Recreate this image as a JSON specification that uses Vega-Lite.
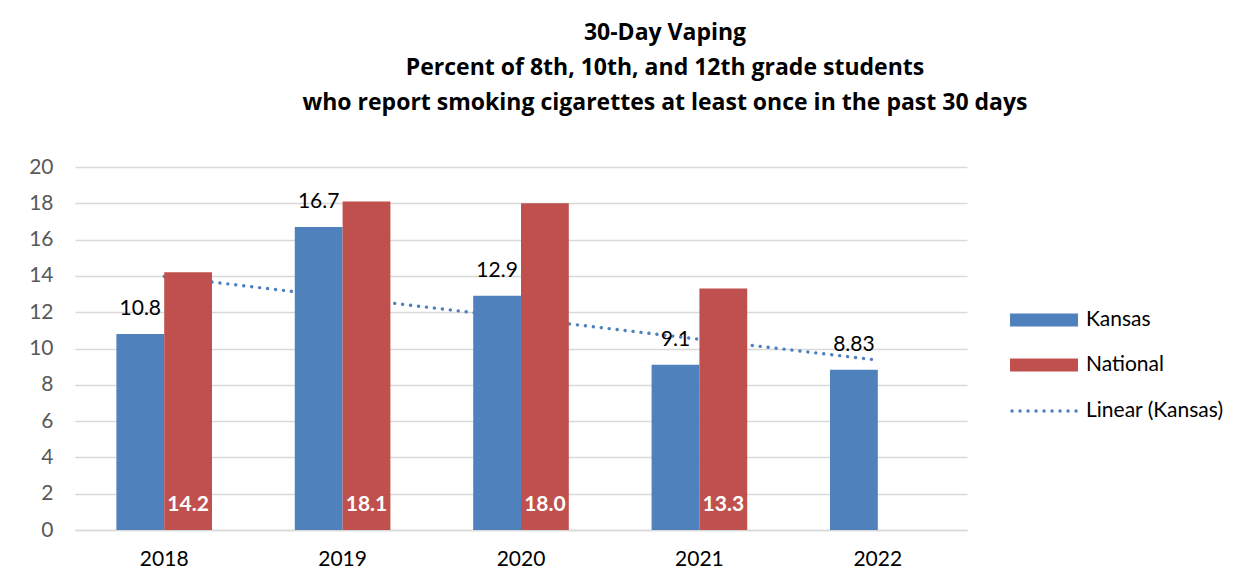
{
  "$schema": "https://vega.github.io/schema/vega-lite/v6.json",
  "autosize": {"type": "none"},
  "width": 892,
  "height": 363,
  "padding": {"left": 75, "top": 167, "right": 281, "bottom": 56},
  "background": "white",
  "title": {
    "text": ["30-Day Vaping", "Percent of 8th, 10th, and 12th grade students", "who report smoking cigarettes at least once in the past 30 days"],
    "fontSize": 23,
    "fontWeight": "bold",
    "font": "Open Sans",
    "color": "#000000",
    "lineHeight": 35,
    "anchor": "middle",
    "frame": "group",
    "dx": 144,
    "offset": 41
  },
  "data": {
    "values": [
      {"year": "2018", "series": "Kansas", "value": 10.8, "trend": 13.97},
      {"year": "2018", "series": "National", "value": 14.2},
      {"year": "2019", "series": "Kansas", "value": 16.7, "trend": 12.82},
      {"year": "2019", "series": "National", "value": 18.1},
      {"year": "2020", "series": "Kansas", "value": 12.9, "trend": 11.67},
      {"year": "2020", "series": "National", "value": 18.0},
      {"year": "2021", "series": "Kansas", "value": 9.1, "trend": 10.51},
      {"year": "2021", "series": "National", "value": 13.3},
      {"year": "2022", "series": "Kansas", "value": 8.83, "trend": 9.36}
    ]
  },
  "layer": [
    {
      "transform": [{"filter": "datum.series === 'Kansas'"}],
      "mark": {"type": "line", "color": "#4F81BD", "strokeWidth": 3.4, "strokeCap": "round"},
      "encoding": {
        "x": {
          "field": "year",
          "type": "nominal",
          "scale": {"paddingInner": 0.464, "paddingOuter": 0.232},
          "axis": {"title": null, "labelAngle": 0, "domain": true, "domainColor": "#d9d9d9", "domainWidth": 1.5, "ticks": false, "labelFontSize": 21, "labelFont": "Lato", "labelColor": "#000000", "labelPadding": 18}
        },
        "y": {
          "field": "trend",
          "type": "quantitative",
          "scale": {"domain": [0, 20], "nice": false},
          "axis": {"title": null, "values": [0, 2, 4, 6, 8, 10, 12, 14, 16, 18, 20], "tickCount": 11, "grid": true, "gridColor": "#d9d9d9", "gridWidth": 1.5, "domain": false, "ticks": false, "labelOverlap": false, "labelFontSize": 21, "labelFont": "Lato", "labelColor": "#595959", "labelPadding": 22}
        },
        "strokeDash": {
          "datum": "Linear (Kansas)",
          "scale": {"domain": ["Linear (Kansas)"], "range": [[0.1, 7.9]]},
          "legend": {
            "title": null,
            "orient": "none",
            "legendX": 952,
            "legendY": 225,
            "padding": 0,
            "symbolType": "M-2,0H2",
            "symbolSize": 1156,
            "symbolStrokeWidth": 3.4,
            "symbolStrokeColor": "#4F81BD",
            "labelOffset": 21,
            "labelFontSize": 21,
            "labelFont": "Lato",
            "labelColor": "#000000",
            "encoding": {"symbols": {"strokeCap": {"value": "round"}}}
          }
        }
      }
    },
    {
      "mark": {"type": "bar"},
      "encoding": {
        "x": {
          "field": "year",
          "type": "nominal",
          "scale": {"paddingInner": 0.464, "paddingOuter": 0.232},
          "axis": {"title": null, "labelAngle": 0, "domain": true, "domainColor": "#d9d9d9", "domainWidth": 1.5, "ticks": false, "labelFontSize": 21, "labelFont": "Lato", "labelColor": "#000000", "labelPadding": 18}
        },
        "xOffset": {"field": "series", "type": "nominal", "scale": {"domain": ["Kansas", "National"], "paddingInner": 0, "paddingOuter": 0}},
        "y": {
          "field": "value",
          "type": "quantitative",
          "scale": {"domain": [0, 20], "nice": false},
          "axis": {"title": null, "values": [0, 2, 4, 6, 8, 10, 12, 14, 16, 18, 20], "tickCount": 11, "grid": true, "gridColor": "#d9d9d9", "gridWidth": 1.5, "domain": false, "ticks": false, "labelOverlap": false, "labelFontSize": 21, "labelFont": "Lato", "labelColor": "#595959", "labelPadding": 22}
        },
        "color": {
          "field": "series",
          "type": "nominal",
          "scale": {"domain": ["Kansas", "National"], "range": ["#4F81BD", "#C0504D"]},
          "legend": {
            "title": null,
            "orient": "none",
            "legendX": 952,
            "legendY": 136,
            "padding": 0,
            "symbolType": "M-2,-0.38H2V0.38H-2Z",
            "symbolSize": 1156,
            "symbolStrokeWidth": 0,
            "symbolOpacity": 1,
            "rowPadding": 18,
            "labelOffset": 25,
            "labelFontSize": 21,
            "labelFont": "Lato",
            "labelColor": "#000000"
          }
        }
      }
    },
    {
      "transform": [{"filter": "datum.series === 'Kansas'"}],
      "mark": {"type": "text", "baseline": "alphabetic", "dy": -19, "fontSize": 21, "font": "Lato", "color": "#000000"},
      "encoding": {
        "x": {"field": "year", "type": "nominal"},
        "xOffset": {"field": "series", "type": "nominal"},
        "y": {
          "field": "value",
          "type": "quantitative",
          "axis": {"title": null, "values": [0, 2, 4, 6, 8, 10, 12, 14, 16, 18, 20], "tickCount": 11, "grid": true, "gridColor": "#d9d9d9", "gridWidth": 1.5, "domain": false, "ticks": false, "labelOverlap": false, "labelFontSize": 21, "labelFont": "Lato", "labelColor": "#595959", "labelPadding": 22}
        },
        "text": {"field": "value", "type": "nominal"}
      }
    },
    {
      "transform": [{"filter": "datum.series === 'National'"}],
      "mark": {"type": "text", "baseline": "alphabetic", "dy": -19, "fontSize": 21, "fontWeight": "bold", "font": "Lato", "color": "#FFFFFF"},
      "encoding": {
        "x": {"field": "year", "type": "nominal"},
        "xOffset": {"field": "series", "type": "nominal"},
        "y": {
          "datum": 0,
          "type": "quantitative",
          "axis": {"title": null, "values": [0, 2, 4, 6, 8, 10, 12, 14, 16, 18, 20], "tickCount": 11, "grid": true, "gridColor": "#d9d9d9", "gridWidth": 1.5, "domain": false, "ticks": false, "labelOverlap": false, "labelFontSize": 21, "labelFont": "Lato", "labelColor": "#595959", "labelPadding": 22}
        },
        "text": {"field": "value", "type": "quantitative", "format": ".1f"}
      }
    }
  ],
  "config": {
    "font": "Lato",
    "view": {"stroke": null},
    "axisY": {"tickCount": 11}
  }
}
